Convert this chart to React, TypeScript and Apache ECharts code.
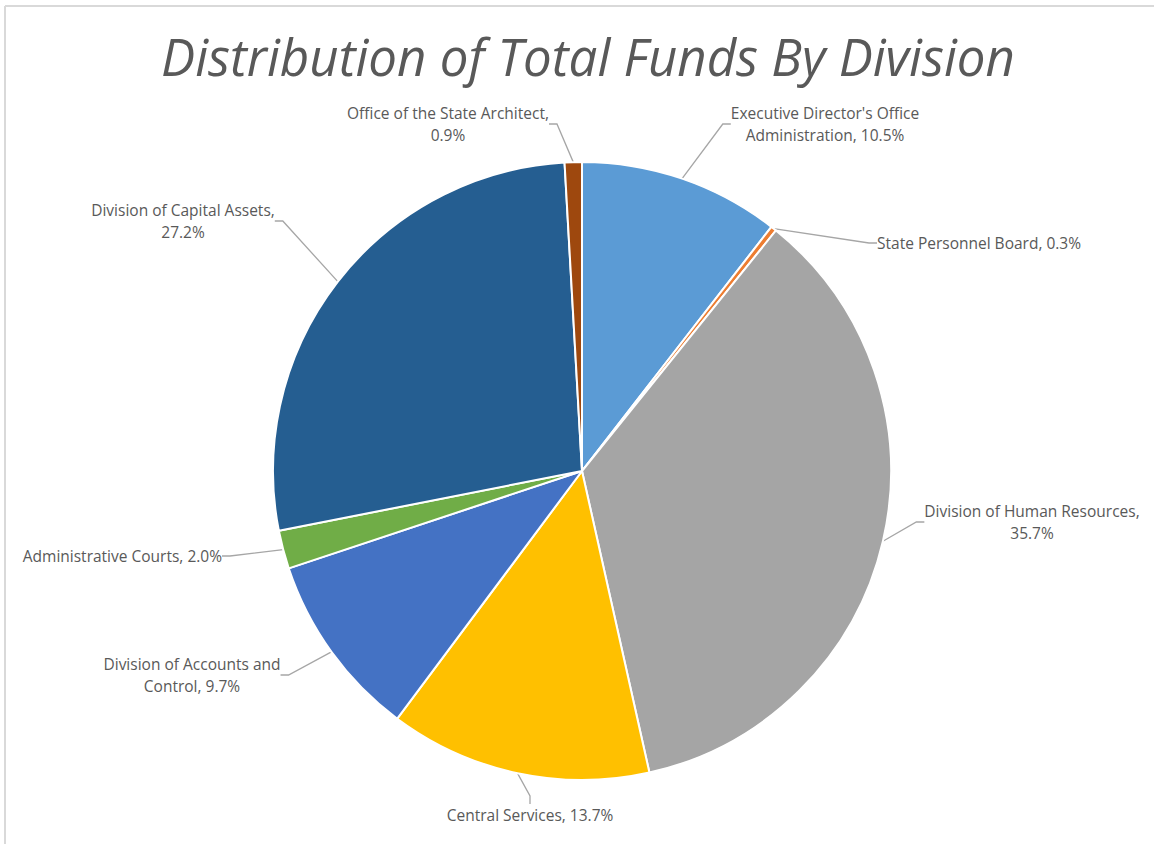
import React, { useEffect, useRef } from "react";
import * as echarts from "echarts";

const categories = [
  "Executive Director's Office Administration",
  "State Personnel Board",
  "Division of Human Resources",
  "Central Services",
  "Division of Accounts and Control",
  "Administrative Courts",
  "Division of Capital Assets",
  "Office of the State Architect",
];
const shares = [10.5, 0.3, 35.7, 13.7, 9.7, 2.0, 27.2, 0.9];
const labelTexts = [
  "Executive Director's Office\nAdministration, 10.5%",
  "State Personnel Board, 0.3%",
  "Division of Human Resources,\n35.7%",
  "Central Services, 13.7%",
  "Division of Accounts and\nControl, 9.7%",
  "Administrative Courts, 2.0%",
  "Division of Capital Assets,\n27.2%",
  "Office of the State Architect,\n0.9%",
];
const colors = ["#5B9BD5", "#ED7D31", "#A5A5A5", "#FFC000", "#4472C4", "#70AD47", "#255E91", "#9E480E"];
// label anchor placement (x, y, align)
const labelPlacement: [number, number, string][] = [
  [825, 124, "center"],
  [877, 243, "left"],
  [1032, 522, "center"],
  [530, 815, "center"],
  [192, 675, "center"],
  [222, 556, "right"],
  [183, 221, "center"],
  [448, 124, "center"],
];

export default function App() {
  const ref = useRef<HTMLDivElement>(null);
  useEffect(() => {
    if (!ref.current) return;
    const chart = echarts.init(ref.current, null, { renderer: "svg" });
    chart.setOption({
      animation: false,
      backgroundColor: "#ffffff",
      title: {
        text: "Distribution of Total Funds By Division",
        left: 583,
        textAlign: "center",
        top: 25,
        textStyle: {
          fontFamily: "Open Sans",
          fontStyle: "italic",
          fontWeight: "normal",
          fontSize: 51,
          color: "#595959",
        },
      },
      graphic: [
        { type: "line", shape: { x1: 5, y1: 6, x2: 1154, y2: 6 }, style: { stroke: "#d9d9d9", lineWidth: 2 } },
        { type: "line", shape: { x1: 5, y1: 6, x2: 5, y2: 844 }, style: { stroke: "#d9d9d9", lineWidth: 2 } },
      ],
      series: [
        {
          type: "pie",
          center: [582, 471],
          radius: 309,
          startAngle: 90,
          clockwise: true,
          avoidLabelOverlap: false,
          itemStyle: { borderColor: "#ffffff", borderWidth: 2 },
          label: {
            show: true,
            position: "outside",
            fontFamily: "Open Sans",
            fontSize: 15.5,
            lineHeight: 22,
            color: "#595959",
            formatter: (p: any) => labelTexts[p.dataIndex],
          },
          labelLine: {
            show: true,
            length: 10,
            length2: 8,
            lineStyle: { color: "#a6a6a6", width: 1.3 },
          },
          labelLayout: (p: any) => {
            const lp = labelPlacement[p.dataIndex];
            return { x: lp[0], y: lp[1], align: lp[2], verticalAlign: "middle" };
          },
          data: categories.map((name, i) => ({
            name,
            value: shares[i],
            itemStyle: { color: colors[i] },
          })),
        },
      ],
    });
    return () => chart.dispose();
  }, []);
  return (
    <div
      ref={ref}
      style={{ position: "fixed", left: 0, top: 0, width: 1154, height: 844 }}
    />
  );
}
